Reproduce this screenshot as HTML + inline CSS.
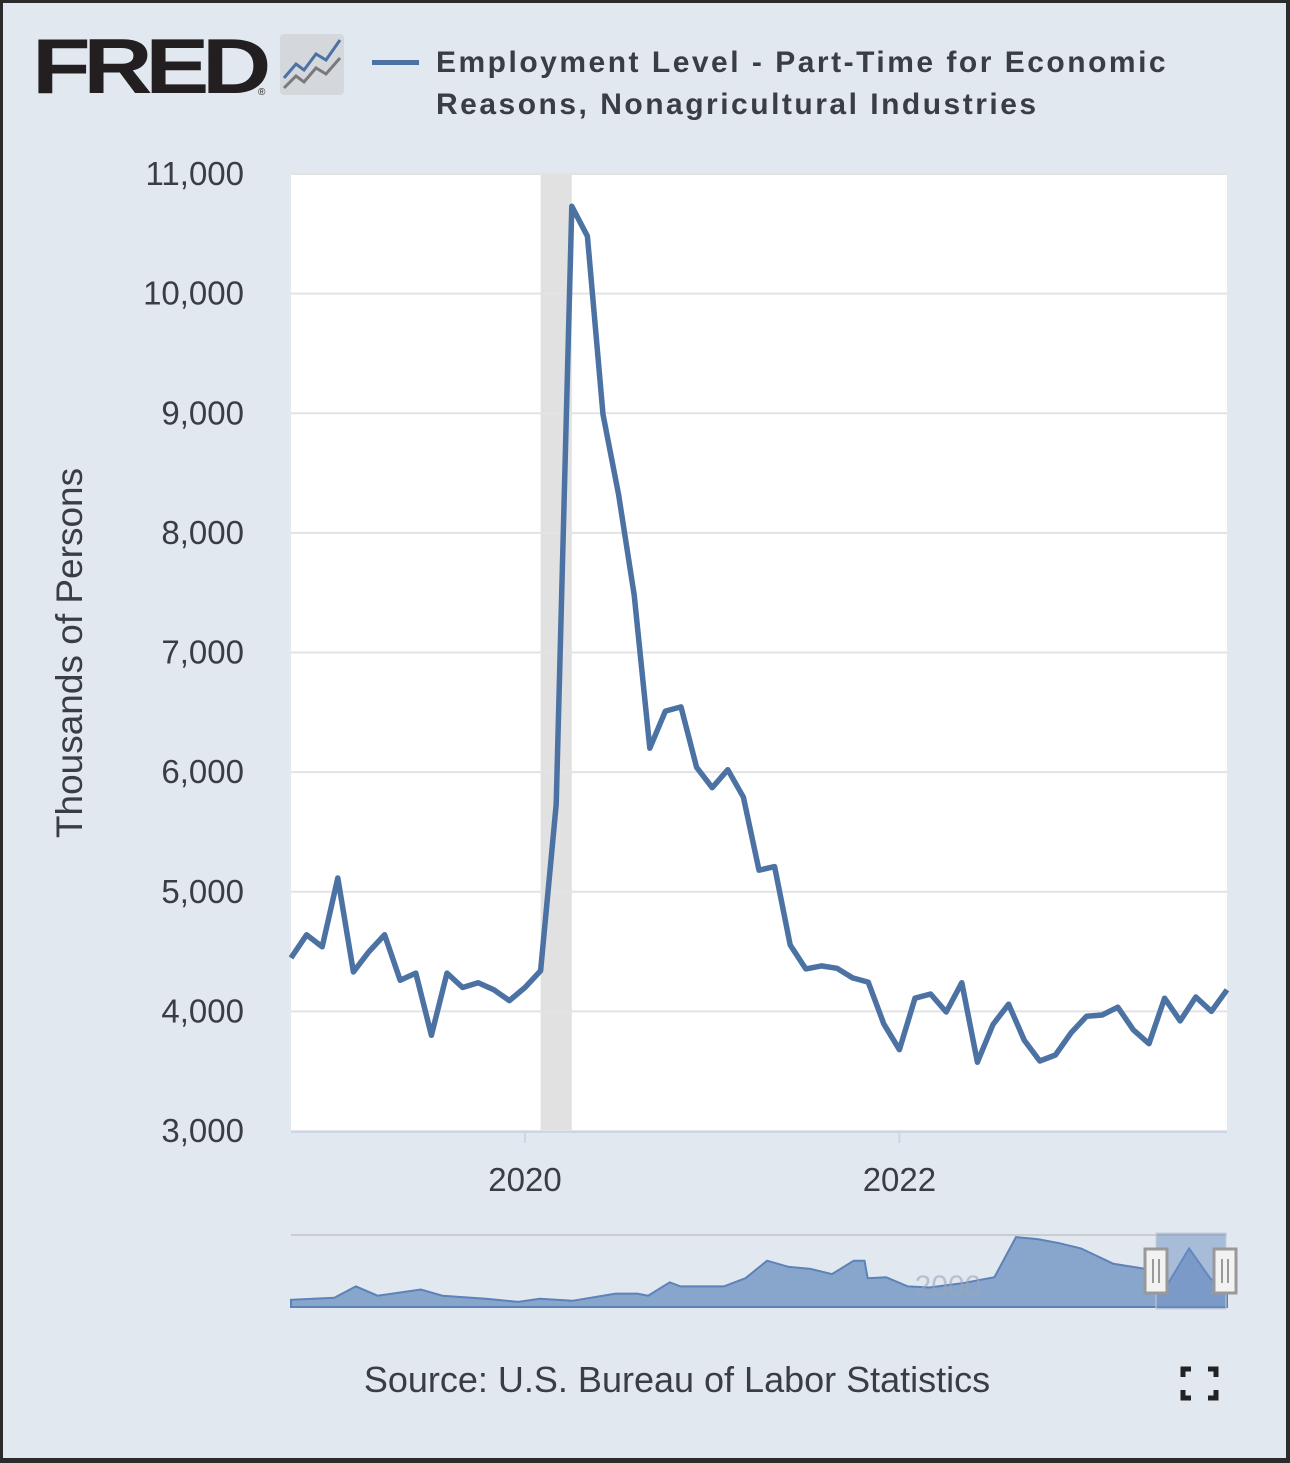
<!DOCTYPE html>
<html><head><meta charset="utf-8">
<style>
html,body{margin:0;padding:0;}
body{width:1290px;height:1458px;background:#2b2b2b;overflow:hidden;font-family:"Liberation Sans",sans-serif;}
#card{position:absolute;left:3px;top:3px;width:1283px;height:1455px;background:#e1e8f0;}
</style></head><body>
<div id="card">
<svg id="svg" width="1283" height="1455" viewBox="3 3 1283 1455" xmlns="http://www.w3.org/2000/svg">
  <g>
    <text x="32" y="93" font-family="Liberation Sans, sans-serif" font-weight="bold" font-size="78" fill="#231f20" letter-spacing="-6" textLength="232" lengthAdjust="spacingAndGlyphs">FRED</text>
    <text x="258" y="95" font-size="10" fill="#231f20">®</text>
    <rect x="280" y="34" width="64" height="61" rx="4" fill="#d4d8dc"/>
    <polyline points="284,78 296,64 304,70 316,54 326,60 340,40" fill="none" stroke="#4c72a4" stroke-width="3"/>
    <polyline points="284,88 296,76 304,82 316,68 326,74 340,58" fill="none" stroke="#7a7a7a" stroke-width="3"/>
  </g>
  <g>
    <rect x="372" y="60" width="47" height="5" fill="#4c72a4"/>
    <text x="436" y="72" font-size="30" font-weight="bold" fill="#3a3e44" letter-spacing="2.5">Employment Level - Part-Time for Economic</text>
    <text x="436" y="114" font-size="30" font-weight="bold" fill="#3a3e44" letter-spacing="2.5">Reasons, Nonagricultural Industries</text>
  </g>
  <rect x="291" y="174" width="936" height="957" fill="#ffffff"/>
  <g id="grid"></g>
  <g id="yticks"></g>
  <g id="xticks"></g>
  <text x="0" y="0" transform="translate(82,653) rotate(-90)" text-anchor="middle" font-size="37" fill="#3a3e44">Thousands of Persons</text>
  <g id="series"></g>
  <g id="nav"></g>
  <text x="677" y="1392" text-anchor="middle" font-size="36" fill="#3a3e44">Source: U.S. Bureau of Labor Statistics</text>
  <g stroke="#222" stroke-width="5" fill="none">
    <polyline points="1183,1377 1183,1369 1191,1369"/>
    <polyline points="1208,1369 1216,1369 1216,1377"/>
    <polyline points="1183,1390 1183,1398 1191,1398"/>
    <polyline points="1208,1398 1216,1398 1216,1390"/>
  </g>
</svg>
</div>
<script>
const values = [4447,4640,4540,5115,4330,4500,4640,4260,4320,3800,4320,4200,4240,4180,4090,4200,4340,5730,10730,10480,8990,8320,7480,6200,6510,6545,6040,5870,6020,5790,5180,5210,4555,4355,4380,4360,4280,4245,3895,3680,4110,4145,3995,4240,3575,3890,4060,3760,3585,3635,3820,3960,3970,4035,3845,3730,4110,3920,4120,4000,4180];
const startMonth = 2018*12+9; // Oct 2018
const yTicks = [3000,4000,5000,6000,7000,8000,9000,10000,11000];
const xTickYears = [2020,2022];
const recession = [2020*12+1, 2020*12+3]; // Feb 2020 - Apr 2020
const navValues = [7,9,20,11,17,11,8,5,8,6,13,13,11,24,20,20,28,45,39,37,32,45,45,28,29,20,19,23,29,68,66,62,57,42,37,22,57,27,23];
const navYears = [1968,1972,1974,1976,1980,1982,1986,1989,1991,1994,1998,2000,2001,2003,2004,2008,2010,2012,2014,2016,2018,2020,2021,2021.3,2023,2025,2027,2030,2033,2035,2037,2039,2041,2044,2047,2049,2051,2053,2054.5];

const NS="http://www.w3.org/2000/svg";
function mk(tag,attrs,parent){const e=document.createElementNS(NS,tag);for(const k in attrs)e.setAttribute(k,attrs[k]);parent.appendChild(e);return e;}
const X0=291,X1=1227,Y0=1131,Y1=174;
const m0=startMonth, m1=startMonth+values.length-1;
const xs=m=>X0+(m-m0)/(m1-m0)*(X1-X0);
const ys=v=>Y0-(v-3000)/(11000-3000)*(Y0-Y1);

const grid=document.getElementById('grid');
const rec=mk('rect',{x:xs(recession[0]),y:Y1,width:xs(recession[1])-xs(recession[0]),height:Y0-Y1,fill:'#e1e1e1'},grid);


yTicks.forEach(t=>{
  const l=mk('line',{x1:X0,x2:X1,y1:ys(t),y2:ys(t),stroke:'#e3e3e3','stroke-width':2},grid);
  
  
  const tx=mk('text',{x:244,y:ys(t)+11,'text-anchor':'end','font-size':33,fill:'#3a3e44'},document.getElementById('yticks'));
  tx.textContent=t.toLocaleString('en-US');
  
  
});
const xg=document.getElementById('xticks');
mk('line',{x1:X0,x2:X1,y1:Y0+1,y2:Y0+1,stroke:'#ccd6eb','stroke-width':2},xg);
xTickYears.forEach(yr=>{
  const x=xs(yr*12);
  mk('line',{x1:x,x2:x,y1:Y0,y2:Y0+12,stroke:'#ccd6eb','stroke-width':2},xg);
  const tx=mk('text',{x:x,y:1191,'text-anchor':'middle','font-size':33,fill:'#3a3e44'},xg);
  tx.textContent=yr;
  
  
});
const pts=values.map((v,i)=>xs(m0+i).toFixed(1)+','+ys(v).toFixed(1)).join(' ');
const line=mk('polyline',{points:pts,fill:'none',stroke:'#4c72a4','stroke-width':5.5,'stroke-linejoin':'round'},document.getElementById('series'));



// navigator
const nav=document.getElementById('nav');
const NB=1307,NH=72;
const nx=yv=>X0+(yv-navYears[0])/(navYears[navYears.length-1]-navYears[0])*(X1-X0);
const ny=v=>NB-v/70*NH;
mk('line',{x1:X0,x2:X1,y1:1235,y2:1235,stroke:'#c8cdd3','stroke-width':2},nav);
let d='M'+X0+','+NB+' '+navValues.map((v,i)=>'L'+nx(navYears[i]).toFixed(1)+','+ny(v).toFixed(1)).join(' ')+' L'+X1+','+NB+' Z';
const area=mk('path',{d:d,fill:'#88a5cc',stroke:'#5d82b8','stroke-width':2},nav);


const nl=mk('text',{x:948,y:1296,'text-anchor':'middle','font-size':30,fill:'#9aa7b8','opacity':0.6},nav);
nl.textContent='2000';
const sel=mk('rect',{x:1156,y:1233,width:70,height:76,fill:'#6d8fc2','fill-opacity':0.5,stroke:'#c8cdd3'},nav);


[1156,1225].forEach(hx=>{
  const h=mk('g',{},nav);
  
  
  mk('rect',{x:hx-11,y:1249,width:22,height:44,fill:'#f2f2f2',stroke:'#999','stroke-width':3},h);
  mk('line',{x1:hx-3,x2:hx-3,y1:1259,y2:1283,stroke:'#999','stroke-width':2},h);
  mk('line',{x1:hx+3,x2:hx+3,y1:1259,y2:1283,stroke:'#999','stroke-width':2},h);
});
</script>
</body></html>
